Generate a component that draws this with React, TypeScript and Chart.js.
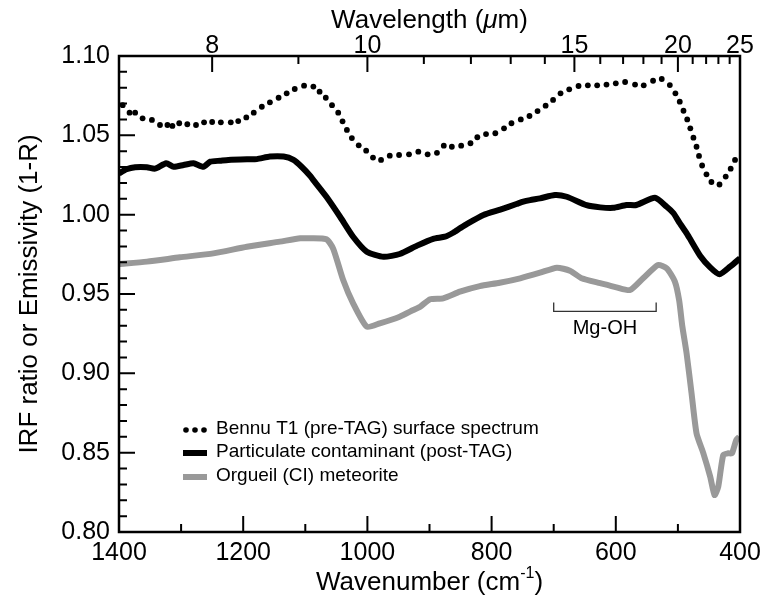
import React, { useEffect, useRef } from "react";
import { Chart, registerables } from "chart.js";

Chart.register(...registerables);

// ---------- DATA ----------
const BENNU_WN = [
  1394, 1383, 1374, 1362, 1347, 1334, 1322, 1314, 1303, 1290, 1276, 1263, 1250, 1236, 1220, 1208,
  1195, 1183, 1170, 1157, 1143, 1130, 1117, 1102, 1087, 1077, 1067, 1057, 1047, 1040, 1033, 1025,
  1014, 1002, 991, 978, 964, 949, 933, 918, 903, 888, 877, 864, 849, 834, 823, 809, 794, 780, 768,
  753, 739, 726, 713, 701, 689, 675, 660, 645, 630, 615, 600, 585, 569, 555, 540, 526, 513, 504,
  497, 491, 485, 480, 475, 470, 466, 461, 454, 446, 433, 423, 415, 408,
];
const BENNU_VAL = [
  1.069, 1.0643, 1.0643, 1.0607, 1.0597, 1.0565, 1.0565, 1.0559, 1.0576, 1.057, 1.0565, 1.0582,
  1.0584, 1.0582, 1.0582, 1.059, 1.0613, 1.0643, 1.068, 1.0708, 1.0737, 1.0765, 1.0792, 1.0813,
  1.0807, 1.0775, 1.0737, 1.069, 1.0643, 1.0588, 1.0534, 1.0483, 1.0437, 1.0403, 1.036, 1.0345,
  1.0372, 1.0376, 1.038, 1.0397, 1.038, 1.039, 1.0435, 1.0428, 1.0435, 1.045, 1.0488, 1.0508,
  1.0513, 1.0544, 1.0576, 1.06, 1.0622, 1.0653, 1.0687, 1.0723, 1.0765, 1.079, 1.0811, 1.0815,
  1.0815, 1.082, 1.0828, 1.0836, 1.082, 1.0815, 1.0844, 1.0855, 1.0817, 1.0765, 1.0712, 1.0655,
  1.06, 1.0544, 1.0485, 1.0428, 1.037, 1.031, 1.0254, 1.0206, 1.019, 1.024, 1.029, 1.0345,
];

const PART_WN = [
  1400, 1388, 1374, 1355, 1342, 1324, 1312, 1296, 1280, 1264, 1253, 1237, 1224, 1194, 1178, 1157,
  1135, 1119, 1106, 1092, 1087, 1066, 1044, 1023, 1001, 974, 948, 920, 894, 875, 862, 851, 840,
  813, 786, 760, 749, 738, 722, 698, 679, 647, 625, 604, 583, 567, 537, 518, 507, 497, 486, 481,
  464, 448, 433, 416, 400,
];
const PART_VAL = [
  1.026, 1.0286, 1.0299, 1.0299, 1.029, 1.0324, 1.0302, 1.0313, 1.0324, 1.0302, 1.0334, 1.034,
  1.0345, 1.0349, 1.035, 1.0366, 1.0366, 1.0345, 1.0302, 1.0244, 1.0218, 1.0113, 0.9987, 0.9861,
  0.9767, 0.9735, 0.9752, 0.9805, 0.9848, 0.9861, 0.9886, 0.9914, 0.9941, 0.9998, 1.0032, 1.0067,
  1.0082, 1.0092, 1.0103, 1.0124, 1.0113, 1.006, 1.0046, 1.0043, 1.0061, 1.0061, 1.0106, 1.005,
  1.0009, 0.9946, 0.9883, 0.9851, 0.974, 0.9668, 0.9624, 0.9672, 0.9725,
];

const ORG_WN = [
  1400, 1355, 1302, 1248, 1194, 1141, 1108, 1092, 1066, 1055, 1039, 1023, 1001, 980, 948, 926, 915,
  899, 878, 851, 819, 787, 754, 722, 695, 674, 655, 625, 599, 577, 556, 532, 518, 505, 498, 493,
  486, 478, 470, 459, 448, 441, 435, 427, 419, 413, 406, 401,
];
const ORG_VAL = [
  0.9689, 0.9704, 0.9731, 0.9756, 0.9798, 0.983, 0.9851, 0.9851, 0.9845, 0.9785, 0.9588, 0.9441,
  0.9294, 0.9315, 0.9357, 0.9399, 0.942, 0.9467, 0.9473, 0.9515, 0.955, 0.9571, 0.9599, 0.9634,
  0.9666, 0.9647, 0.9599, 0.9568, 0.9542, 0.9525, 0.9599, 0.9683, 0.9662, 0.958, 0.946, 0.93,
  0.9126, 0.8874, 0.8622, 0.8496, 0.8349, 0.8233, 0.8286, 0.8485, 0.8496, 0.8496, 0.858, 0.86,
];

const SERIES_NAMES = [
  "Bennu T1 (pre-TAG) surface spectrum",
  "Particulate contaminant (post-TAG)",
  "Orgueil (CI) meteorite",
];

const WAVENUMBER_MAJOR = [1400, 1200, 1000, 800, 600, 400];
const WAVENUMBER_MINOR = [1300, 1100, 900, 700, 500];
const WAVELENGTH_MAJOR = [8, 10, 15, 20, 25];
const WAVELENGTH_MINOR = [9, 11, 12, 13, 14, 16, 17, 18, 19, 21, 22, 23, 24];
const Y_MAJOR = [0.8, 0.85, 0.9, 0.95, 1.0, 1.05, 1.1];
const Y_MINOR_STEP = 0.01;

const MGOH_FROM = 700;
const MGOH_TO = 535;
const MGOH_Y = 0.939;
const MGOH_LABEL = "Mg-OH";

const X_TITLE = "Wavenumber (cm";
const TOP_TITLE_PARTS = ["Wavelength (", "\u03bc", "m)"];
const Y_TITLE = "IRF ratio or Emissivity (1-R)";

const FONT = "'Liberation Sans', Arial, Helvetica, sans-serif";
const GRAY = "#999999";

function pts(xs: number[], ys: number[]) {
  return xs.map((x, i) => ({ x, y: ys[i] }));
}

const decorPlugin = {
  id: "decor",
  afterDraw(chart: any) {
    const { ctx, chartArea: a, scales } = chart;
    const x = scales.x;
    const y = scales.y;
    ctx.save();
    ctx.strokeStyle = "#000";
    ctx.lineCap = "butt";
    // ticks
    ctx.lineWidth = 2;
    const MAJ = 16;
    const MIN = 8;
    ctx.beginPath();
    for (let v = 0.8; v <= 1.1001; v += Y_MINOR_STEP) {
      const isMaj = Y_MAJOR.some((m) => Math.abs(m - v) < 1e-6);
      const py = y.getPixelForValue(v);
      ctx.moveTo(a.left, py);
      ctx.lineTo(a.left + (isMaj ? MAJ : MIN), py);
    }
    WAVENUMBER_MAJOR.forEach((v) => {
      const px = x.getPixelForValue(v);
      ctx.moveTo(px, a.bottom);
      ctx.lineTo(px, a.bottom - MAJ);
    });
    WAVENUMBER_MINOR.forEach((v) => {
      const px = x.getPixelForValue(v);
      ctx.moveTo(px, a.bottom);
      ctx.lineTo(px, a.bottom - MIN);
    });
    WAVELENGTH_MAJOR.forEach((l) => {
      const px = x.getPixelForValue(10000 / l);
      ctx.moveTo(px, a.top);
      ctx.lineTo(px, a.top + MAJ);
    });
    WAVELENGTH_MINOR.forEach((l) => {
      const px = x.getPixelForValue(10000 / l);
      ctx.moveTo(px, a.top);
      ctx.lineTo(px, a.top + MIN);
    });
    ctx.stroke();
    // frame
    ctx.lineWidth = 2.5;
    ctx.strokeRect(a.left, a.top, a.right - a.left, a.bottom - a.top);

    // Mg-OH bracket
    const bx1 = x.getPixelForValue(MGOH_FROM);
    const bx2 = x.getPixelForValue(MGOH_TO);
    const by = y.getPixelForValue(MGOH_Y);
    ctx.strokeStyle = "#333";
    ctx.lineWidth = 1.3;
    ctx.beginPath();
    ctx.moveTo(bx1, by - 9);
    ctx.lineTo(bx1, by);
    ctx.lineTo(bx2, by);
    ctx.lineTo(bx2, by - 9);
    ctx.stroke();
    ctx.fillStyle = "#000";
    ctx.font = `20px ${FONT}`;
    ctx.textAlign = "center";
    ctx.textBaseline = "middle";
    ctx.fillText(MGOH_LABEL, (bx1 + bx2) / 2, by + 17);

    // legend
    const lx = a.left + 64;
    const rows = [a.top + 373, a.top + 396, a.top + 420];
    ctx.font = `19px ${FONT}`;
    ctx.textAlign = "left";
    ctx.textBaseline = "middle";
    rows.forEach((ry, i) => {
      if (i === 0) {
        ctx.fillStyle = "#000";
        [3, 12, 21].forEach((dx) => {
          ctx.beginPath();
          ctx.arc(lx + dx, ry + 1, 2.8, 0, Math.PI * 2);
          ctx.fill();
        });
      } else {
        ctx.fillStyle = i === 1 ? "#000" : GRAY;
        ctx.fillRect(lx, ry - 2, 24, 6);
      }
      ctx.fillStyle = "#000";
      ctx.fillText(SERIES_NAMES[i], lx + 33, ry);
    });

    // x titles
    ctx.textBaseline = "alphabetic";
    ctx.textAlign = "left";
    const cx = (a.left + a.right) / 2;
    // bottom
    ctx.font = `26px ${FONT}`;
    const w1 = ctx.measureText(X_TITLE).width;
    ctx.font = `16px ${FONT}`;
    const wSup = ctx.measureText("-1").width;
    ctx.font = `26px ${FONT}`;
    const wClose = ctx.measureText(")").width;
    const total = w1 + wSup + wClose;
    let sx = cx - total / 2;
    const byT = 590;
    ctx.fillText(X_TITLE, sx, byT);
    sx += w1;
    ctx.font = `16px ${FONT}`;
    ctx.fillText("-1", sx, byT - 12);
    sx += wSup;
    ctx.font = `26px ${FONT}`;
    ctx.fillText(")", sx, byT);
    // top
    const fonts = [`26px ${FONT}`, `italic 26px ${FONT}`, `26px ${FONT}`];
    let tw = 0;
    const ws = TOP_TITLE_PARTS.map((p, i) => {
      ctx.font = fonts[i];
      const w = ctx.measureText(p).width;
      tw += w;
      return w;
    });
    let tx = cx - tw / 2;
    TOP_TITLE_PARTS.forEach((p, i) => {
      ctx.font = fonts[i];
      ctx.fillText(p, tx, 28);
      tx += ws[i];
    });
    ctx.restore();
  },
};

export default function App() {
  const ref = useRef<HTMLCanvasElement | null>(null);
  useEffect(() => {
    if (!ref.current) return;
    const tickFont = { family: FONT, size: 25 };
    const chart = new Chart(ref.current, {
      type: "line",
      data: {
        datasets: [
          {
            label: SERIES_NAMES[0],
            data: pts(BENNU_WN, BENNU_VAL),
            showLine: false,
            pointRadius: 2.9,
            pointBackgroundColor: "#000",
            pointBorderWidth: 0,
            borderColor: "#000",
          },
          {
            label: SERIES_NAMES[1],
            data: pts(PART_WN, PART_VAL),
            borderColor: "#000",
            borderWidth: 6,
            pointRadius: 0,
            borderJoinStyle: "round",
            tension: 0.2,
          },
          {
            label: SERIES_NAMES[2],
            data: pts(ORG_WN, ORG_VAL),
            borderColor: GRAY,
            borderWidth: 6,
            pointRadius: 0,
            borderJoinStyle: "round",
            tension: 0.2,
          },
        ],
      },
      options: {
        responsive: false,
        animation: false,
        events: [],
        layout: { padding: { left: 0, right: 23, top: 0, bottom: 0 } },
        plugins: { legend: { display: false }, tooltip: { enabled: false } },
        scales: {
          x: {
            type: "linear",
            position: "bottom",
            reverse: true,
            min: 400,
            max: 1400,
            afterBuildTicks: (s: any) => {
              s.ticks = WAVENUMBER_MAJOR.map((v) => ({ value: v }));
            },
            afterFit: (s: any) => {
              s.height = 71;
              s.paddingLeft = 0;
              s.paddingRight = 0;
            },
            grid: { display: false, drawTicks: false },
            border: { display: false },
            ticks: {
              font: tickFont,
              color: "#000",
              padding: 6,
              maxRotation: 0,
              autoSkip: false,
              callback: (v: any) => String(v),
            },
          },
          xTop: {
            type: "linear",
            position: "top",
            reverse: true,
            min: 400,
            max: 1400,
            afterBuildTicks: (s: any) => {
              s.ticks = WAVELENGTH_MAJOR.map((l) => ({ value: 10000 / l }));
            },
            afterFit: (s: any) => {
              s.height = 56;
              s.paddingLeft = 0;
              s.paddingRight = 0;
            },
            grid: { display: false, drawTicks: false },
            border: { display: false },
            ticks: {
              font: tickFont,
              color: "#000",
              padding: -5,
              maxRotation: 0,
              autoSkip: false,
              callback: (v: any) => String(Math.round(10000 / v)),
            },
          },
          y: {
            type: "linear",
            min: 0.8,
            max: 1.1,
            afterBuildTicks: (s: any) => {
              s.ticks = Y_MAJOR.map((v) => ({ value: v }));
            },
            afterFit: (s: any) => {
              s.width = 119;
              s.paddingTop = 0;
              s.paddingBottom = 0;
            },
            grid: { display: false, drawTicks: false },
            border: { display: false },
            title: {
              display: true,
              text: Y_TITLE,
              font: { family: FONT, size: 26 },
              color: "#000",
              padding: { top: 14, bottom: 0 },
            },
            ticks: {
              font: tickFont,
              color: "#000",
              padding: 9,
              callback: (v: any) => Number(v).toFixed(2),
            },
          },
        },
      } as any,
      plugins: [decorPlugin],
    });
    return () => chart.destroy();
  }, []);
  return (
    <div style={{ position: "absolute", left: 0, top: 0, width: 763, height: 603, background: "#fff" }}>
      <canvas ref={ref} width={763} height={603} style={{ width: 763, height: 603, display: "block" }} />
    </div>
  );
}
